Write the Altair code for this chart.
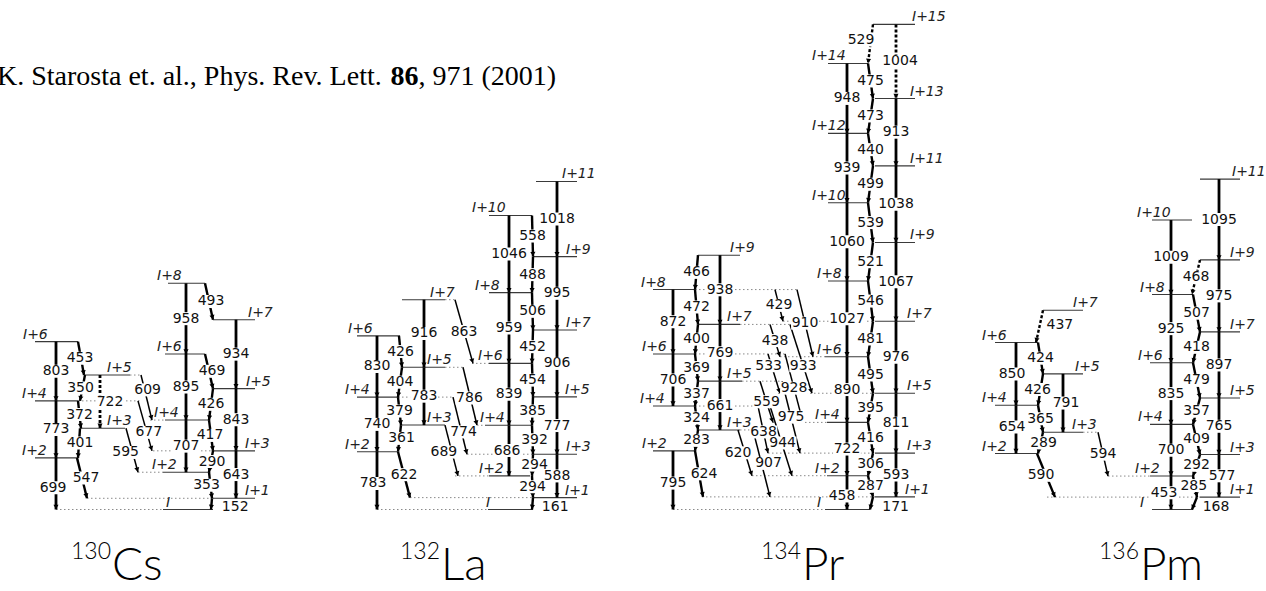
import math
import altair as alt
import pandas as pd

W, H = 1266, 591
KEV_PER_PX = 13.55          # vertical drawing scale of the level schemes
ROW_I = 509.5               # pixel row of the band-head level I
E_LO = -(H - ROW_I) * KEV_PER_PX
E_HI = ROW_I * KEV_PER_PX

# ------------------------------------------------------------------ 130Cs
# levels: (key, spin label, energy above I in keV)
CS130_LEVELS = [
    ("y0", "I", 0), ("y1", "I+1", 152), ("y2", "I+2", 505), ("y3", "I+3", 795),
    ("y4", "I+4", 1212), ("y5", "I+5", 1638), ("y6", "I+6", 2107),
    ("y7", "I+7", 2572), ("y8", "I+8", 3065),
    ("a2", "I+2", 699), ("a4", "I+4", 1472), ("a6", "I+6", 2275),
    ("b3", "I+3", 1100), ("b5", "I+5", 1822),
]
# gamma rays: (energy keV, initial level, final level)
CS130_GAMMAS = [
    (699, "a2", "y0"), (773, "a4", "a2"), (803, "a6", "a4"), (722, "b5", "b3"),
    (453, "a6", "b5"), (350, "b5", "a4"), (372, "a4", "b3"), (401, "b3", "a2"),
    (547, "a2", "y1"), (609, "b5", "y4"), (677, "a4", "y3"), (595, "b3", "y2"),
    (958, "y8", "y6"), (895, "y6", "y4"), (707, "y4", "y2"),
    (934, "y7", "y5"), (843, "y5", "y3"), (643, "y3", "y1"),
    (493, "y8", "y7"), (469, "y6", "y5"), (426, "y5", "y4"), (417, "y4", "y3"),
    (290, "y3", "y2"), (353, "y2", "y1"), (152, "y1", "y0"),
]

# ------------------------------------------------------------------ 132La
LA132_LEVELS = [
    ("y0", "I", 0), ("y1", "I+1", 161), ("y2", "I+2", 455), ("y3", "I+3", 749),
    ("y4", "I+4", 1141), ("y5", "I+5", 1526), ("y6", "I+6", 1980), ("y7", "I+7", 2432),
    ("y8", "I+8", 2938), ("y9", "I+9", 3427), ("y10", "I+10", 3984), ("y11", "I+11", 4445),
    ("a2", "I+2", 783), ("a4", "I+4", 1523), ("a6", "I+6", 2353),
    ("b3", "I+3", 1144), ("b5", "I+5", 1927), ("b7", "I+7", 2843),
]
LA132_GAMMAS = [
    (783, "a2", "y0"), (740, "a4", "a2"), (830, "a6", "a4"), (783, "b5", "b3"), (916, "b7", "b5"),
    (426, "a6", "b5"), (404, "b5", "a4"), (379, "a4", "b3"), (361, "b3", "a2"), (622, "a2", "y1"),
    (689, "b3", "y2"), (774, "a4", "y3"), (786, "b5", "y4"), (863, "b7", "y6"),
    (1046, "y10", "y8"), (959, "y8", "y6"), (839, "y6", "y4"), (686, "y4", "y2"),
    (1018, "y11", "y9"), (995, "y9", "y7"), (906, "y7", "y5"), (777, "y5", "y3"), (588, "y3", "y1"),
    (558, "y10", "y9"), (488, "y9", "y8"), (506, "y8", "y7"), (452, "y7", "y6"), (454, "y6", "y5"),
    (385, "y5", "y4"), (392, "y4", "y3"), (294, "y3", "y2"), (294, "y2", "y1"), (161, "y1", "y0"),
]

# ------------------------------------------------------------------ 134Pr
PR134_LEVELS = [
    ("y0", "I", 0), ("y1", "I+1", 171), ("y2", "I+2", 458), ("y3", "I+3", 764),
    ("y4", "I+4", 1180), ("y5", "I+5", 1575), ("y6", "I+6", 2070), ("y7", "I+7", 2551),
    ("y8", "I+8", 3097), ("y9", "I+9", 3618), ("y10", "I+10", 4157), ("y11", "I+11", 4656),
    ("y12", "I+12", 5096), ("y13", "I+13", 5569), ("y14", "I+14", 6044), ("y15", "I+15", 6573),
    ("a2", "I+2", 795), ("a4", "I+4", 1402), ("a6", "I+6", 2108), ("a8", "I+8", 2980),
    ("b3", "I+3", 1078), ("b5", "I+5", 1739), ("b7", "I+7", 2508), ("b9", "I+9", 3446),
]
PR134_GAMMAS = [
    (795, "a2", "y0"), (706, "a6", "a4"), (872, "a8", "a6"),
    (661, "b5", "b3"), (769, "b7", "b5"), (938, "b9", "b7"),
    (466, "b9", "a8"), (472, "a8", "b7"), (400, "b7", "a6"), (369, "a6", "b5"), (337, "b5", "a4"),
    (324, "a4", "b3"), (283, "b3", "a2"), (624, "a2", "y1"),
    (429, "a8", "y7"), (910, "a8", "y6"), (438, "b7", "y6"), (933, "b7", "y5"), (533, "a6", "y5"),
    (928, "a6", "y4"), (559, "b5", "y4"), (975, "b5", "y3"), (638, "a4", "y3"), (944, "a4", "y2"),
    (620, "b3", "y2"), (907, "b3", "y1"),
    (948, "y14", "y12"), (939, "y12", "y10"), (1060, "y10", "y8"), (1027, "y8", "y6"),
    (890, "y6", "y4"), (722, "y4", "y2"), (458, "y2", "y0"),
    (1004, "y15", "y13"), (913, "y13", "y11"), (1038, "y11", "y9"), (1067, "y9", "y7"),
    (976, "y7", "y5"), (811, "y5", "y3"), (593, "y3", "y1"),
    (529, "y15", "y14"), (475, "y14", "y13"), (473, "y13", "y12"), (440, "y12", "y11"),
    (499, "y11", "y10"), (539, "y10", "y9"), (521, "y9", "y8"), (546, "y8", "y7"),
    (481, "y7", "y6"), (495, "y6", "y5"), (395, "y5", "y4"), (416, "y4", "y3"),
    (306, "y3", "y2"), (287, "y2", "y1"), (171, "y1", "y0"),
]

# ------------------------------------------------------------------ 136Pm
PM136_LEVELS = [
    ("y0", "I", 0), ("y1", "I+1", 168), ("y2", "I+2", 453), ("y3", "I+3", 745),
    ("y4", "I+4", 1153), ("y5", "I+5", 1510), ("y6", "I+6", 1988), ("y7", "I+7", 2407),
    ("y8", "I+8", 2913), ("y9", "I+9", 3382), ("y10", "I+10", 3922), ("y11", "I+11", 4477),
    ("a2", "I+2", 758), ("a4", "I+4", 1412), ("a6", "I+6", 2262),
    ("b3", "I+3", 1047), ("b5", "I+5", 1838), ("b7", "I+7", 2699),
]
PM136_GAMMAS = [
    (654, "a4", "a2"), (850, "a6", "a4"), (791, "b5", "b3"),
    (437, "b7", "a6"), (424, "a6", "b5"), (426, "b5", "a4"), (365, "a4", "b3"), (289, "b3", "a2"),
    (590, "a2", "y1"), (594, "b3", "y2"),
    (1009, "y10", "y8"), (925, "y8", "y6"), (835, "y6", "y4"), (700, "y4", "y2"), (453, "y2", "y0"),
    (1095, "y11", "y9"), (975, "y9", "y7"), (897, "y7", "y5"), (765, "y5", "y3"), (577, "y3", "y1"),
    (468, "y9", "y8"), (507, "y8", "y7"), (418, "y7", "y6"), (479, "y6", "y5"), (357, "y5", "y4"),
    (409, "y4", "y3"), (292, "y3", "y2"), (285, "y2", "y1"), (168, "y1", "y0"),
]

NUCLIDE_MASS = ["130", "132", "134", "136"]
NUCLIDE_SYMBOL = ["Cs", "La", "Pr", "Pm"]
REFERENCE_TEXT = ["K. Starosta et. al., Phys. Rev. Lett. ", "86", ", 971 (2001)"]

# ================================================================== layout
# level drawing: (solid from, solid to, spin-label left edge[, dotted from, dotted to])
CS130_LEVEL_DRAW = {
    "y0": (163, 213, 166, 56, 163), "y1": (213, 255, 245, 87, 213),
    "y2": (163, 210, 152, 138, 163), "y3": (213, 255, 245, 153, 213),
    "y4": (165, 210, 154, 150, 165), "y5": (213, 255, 246),
    "y6": (165, 205, 157), "y7": (213, 255, 248), "y8": (168, 205, 157),
    "a2": (35, 78, 22), "a4": (35, 78, 22, 78, 140), "a6": (35, 78, 23),
    "b3": (80, 125, 107), "b5": (85, 130, 107, 130, 141),
}
LA132_LEVEL_DRAW = {
    "y0": (488, 533, 486, 377, 488), "y1": (533, 577, 565, 410, 533),
    "y2": (489, 530, 479, 455, 489), "y3": (533, 577, 566, 467, 533),
    "y4": (485, 532, 480, 477, 485), "y5": (533, 577, 565),
    "y6": (489, 532, 478, 472, 489), "y7": (533, 577, 566),
    "y8": (489, 532, 475), "y9": (533, 577, 566),
    "y10": (489, 532, 472), "y11": (536, 577, 562),
    "a2": (357, 398, 345), "a4": (357, 398, 345, 398, 453), "a6": (357, 400, 348),
    "b3": (402, 445, 427), "b5": (402, 445, 427, 445, 463), "b7": (402, 445, 430, 445, 456),
}
PR134_LEVEL_DRAW = {
    "y0": (825, 870, 817, 673, 825), "y1": (875, 915, 905, 702, 875),
    "y2": (827, 868, 815, 752, 827), "y3": (875, 915, 907, 768, 875),
    "y4": (827, 868, 815, 773, 827), "y5": (875, 915, 907, 778, 875),
    "y6": (825, 868, 817, 780, 825), "y7": (875, 915, 907, 783, 875),
    "y8": (828, 868, 817), "y9": (875, 915, 910),
    "y10": (828, 868, 812), "y11": (875, 915, 910),
    "y12": (828, 868, 812), "y13": (875, 915, 910),
    "y14": (828, 868, 812), "y15": (873, 915, 912),
    "a2": (653, 695, 642), "a4": (653, 695, 640, 695, 770),
    "a6": (653, 695, 642, 695, 785), "a8": (653, 695, 641, 695, 797),
    "b3": (698, 740, 727, 740, 753), "b5": (698, 742, 727, 742, 782),
    "b7": (698, 740, 727, 740, 790), "b9": (698, 740, 730),
}
PM136_LEVEL_DRAW = {
    "y0": (1152, 1193, 1140), "y1": (1200, 1240, 1230, 1047, 1200),
    "y2": (1150, 1193, 1135, 1108, 1150), "y3": (1200, 1240, 1230),
    "y4": (1150, 1193, 1138), "y5": (1200, 1240, 1230),
    "y6": (1150, 1193, 1138), "y7": (1200, 1240, 1230),
    "y8": (1152, 1193, 1140), "y9": (1200, 1240, 1230),
    "y10": (1152, 1192, 1137), "y11": (1200, 1240, 1232),
    "a2": (995, 1038, 982), "a4": (995, 1038, 982), "a6": (995, 1038, 982),
    "b3": (1042, 1083, 1072, 1083, 1098), "b5": (1042, 1083, 1075), "b7": (1043, 1083, 1073),
}

# gamma drawing, parallel to the gamma lists:
# (x at top, x at bottom, line kind, label position along line, label x shift)
E2, M1, XB, E2D, M1D = "E2", "M1", "X", "E2d", "M1d"
CS130_GAMMA_DRAW = [
    (56, 56, E2, .58, -3), (56, 56, E2, .5, 0), (56, 56, E2, .5, 0), (100, 100, E2D, .5, 10),
    (78, 84, M1, .5, -1), (85, 80, M1, .5, -2), (78, 81, M1, .5, 0), (80, 78, M1, .5, 1),
    (77, 87, M1, .5, 4), (141, 152, XB, .33, 3), (138, 152, XB, .63, 2), (126, 138, XB, .55, -7),
    (186, 186, E2, .5, 0), (186, 186, E2, .5, 0), (186, 186, E2, .5, 0),
    (236, 236, E2, .5, 0), (236, 236, E2, .5, 0), (236, 236, E2, .5, 0),
    (205, 213, M1, .5, 2), (205, 213, M1, .5, 3), (213, 209, M1, .5, 0), (209, 213, M1, .5, -1),
    (213, 209, M1, .5, 1), (209, 212, M1, .5, -4), (212, 211, M1, .8, 24),
]
LA132_GAMMA_DRAW = [
    (377, 377, E2, .55, -4), (377, 377, E2, .5, 0), (377, 377, E2, .5, 0),
    (424, 424, E2, .5, 0), (424, 424, E2, .5, 0),
    (399, 402, M1, .5, 0), (402, 398, M1, .5, 0), (398, 401, M1, .5, 0), (401, 398, M1, .5, 2),
    (398, 410, M1, .5, 0),
    (445, 458, XB, .53, -8), (453, 467, XB, .61, 2), (463, 477, XB, .53, -1), (455, 473, XB, .5, 0),
    (509, 509, E2, .5, 0), (509, 509, E2, .5, 0), (509, 509, E2, .5, 0), (509, 509, E2, .5, -2),
    (557, 557, E2, .5, 0), (557, 557, E2, .5, 0), (557, 557, E2, .5, 0), (557, 557, E2, .5, 0),
    (557, 557, E2, .5, 0),
    (532, 533, M1, .5, 0), (533, 532, M1, .5, 0), (532, 533, M1, .5, 0), (533, 532, M1, .5, 0),
    (532, 533, M1, .5, 0), (533, 532, M1, .5, 0), (532, 533, M1, .5, 2), (533, 532, M1, .5, 2),
    (532, 533, M1, .5, 0), (533, 532, M1, .8, 23),
]
PR134_GAMMA_DRAW = [
    (673, 673, E2, .55, 0), (673, 673, E2, .5, 0), (673, 673, E2, .5, 0),
    (720, 720, E2, .5, 0), (720, 720, E2, .5, 0), (720, 720, E2, .5, 0),
    (698, 695, M1, .5, 0), (695, 698, M1, .5, 0), (698, 695, M1, .5, 0), (695, 698, M1, .5, 0),
    (698, 695, M1, .5, 0), (695, 698, M1, .5, 0), (698, 695, M1, .5, 0), (695, 703, M1, .5, 5),
    (775, 783, XB, .5, 0), (797, 813, XB, .5, 0), (770, 780, XB, .5, 0), (790, 812, XB, .6, 0),
    (768, 780, XB, .3, -3), (785, 803, XB, .5, 0), (760, 773, XB, .5, 0), (782, 800, XB, .5, 0),
    (758, 768, XB, .55, 0), (770, 792, XB, .53, 1), (738, 752, XB, .5, -7), (753, 770, XB, .5, 7),
    (847, 847, E2, .5, 0), (847, 847, E2, .5, 0), (847, 847, E2, .5, 0), (847, 847, E2, .5, 0),
    (847, 847, E2, .5, 0), (847, 847, E2, .5, 0), (847, 847, E2, .6, -5),
    (896, 896, E2D, .5, 4), (896, 896, E2, .5, 0), (896, 896, E2, .5, 0), (896, 896, E2, .5, 0),
    (896, 896, E2, .5, 0), (896, 896, E2, .5, 0), (896, 896, E2, .5, 0),
    (873, 868, M1D, .4, -10), (868, 873, M1, .5, 0), (873, 868, M1, .5, 0), (868, 873, M1, .5, 0),
    (873, 868, M1, .5, 0), (868, 873, M1, .5, 0), (873, 868, M1, .5, 0), (868, 873, M1, .5, 0),
    (873, 868, M1, .5, 0), (868, 873, M1, .5, 0), (873, 868, M1, .5, 0), (868, 873, M1, .5, 0),
    (873, 868, M1, .5, 0), (868, 873, M1, .5, 0), (873, 870, M1, .8, 25),
]
PM136_GAMMA_DRAW = [
    (1016, 1016, E2, .45, -4), (1016, 1016, E2, .5, -4), (1063, 1063, E2, .5, 3),
    (1043, 1036, M1D, .45, 20), (1038, 1043, M1, .5, 0), (1043, 1038, M1, .5, -3),
    (1038, 1043, M1, .5, 0), (1043, 1038, M1, .5, 3),
    (1037, 1055, M1, .5, -5), (1098, 1108, XB, .5, 0),
    (1171, 1171, E2, .5, 0), (1171, 1171, E2, .5, 0), (1171, 1171, E2, .5, 0),
    (1171, 1171, E2, .5, 0), (1171, 1171, E2, .5, -7),
    (1219, 1219, E2, .5, 0), (1219, 1219, E2, .5, 0), (1219, 1219, E2, .5, 0),
    (1219, 1219, E2, .5, 0), (1219, 1219, E2, .5, 3),
    (1200, 1192, M1D, .5, 0), (1193, 1200, M1, .5, 0), (1200, 1193, M1, .5, 0),
    (1193, 1200, M1, .5, 0), (1200, 1193, M1, .5, 0), (1193, 1200, M1, .5, 0),
    (1200, 1193, M1, .5, 0), (1193, 1197, M1, .45, -1), (1197, 1192, M1, .8, 23),
]

NUCLIDE_SYMBOL_X = [112, 441, 802, 1140]
LINE_WIDTH = {E2: 2.8, M1: 2.4, XB: 1.5, E2D: 2.8, M1D: 2.4}

SCHEMES = [
    (CS130_LEVELS, CS130_LEVEL_DRAW, CS130_GAMMAS, CS130_GAMMA_DRAW),
    (LA132_LEVELS, LA132_LEVEL_DRAW, LA132_GAMMAS, LA132_GAMMA_DRAW),
    (PR134_LEVELS, PR134_LEVEL_DRAW, PR134_GAMMAS, PR134_GAMMA_DRAW),
    (PM136_LEVELS, PM136_LEVEL_DRAW, PM136_GAMMAS, PM136_GAMMA_DRAW),
]


def row_to_kev(row):
    return (ROW_I - row) * KEV_PER_PX


levels_rows, dotted_rows, spin_rows = [], [], []
gamma_rows, arrow_rows, label_rows = [], [], []
for levels, level_draw, gammas, gamma_draw in SCHEMES:
    energy = {key: e for key, _, e in levels}
    for key, spin, e in levels:
        spec = level_draw[key]
        levels_rows.append(dict(x=spec[0], x2=spec[1], e=e))
        spin_rows.append(dict(x=spec[2], e=e, spin=spin))
        if len(spec) == 5:
            dotted_rows.append(dict(x=spec[3], x2=spec[4], e=e))
    assert len(gammas) == len(gamma_draw)
    for (eg, a, b), (xt, xb, kind, t, dx) in zip(gammas, gamma_draw):
        et, eb = energy[a], energy[b]
        gamma_rows.append(dict(x=xt, x2=xb, e=et, e2=eb, kind=kind, w=LINE_WIDTH[kind]))
        vx, vy = xb - xt, (et - eb) / KEV_PER_PX
        n = math.hypot(vx, vy)
        ux, uy = vx / n, vy / n
        arrow_rows.append(dict(
            x=xb - ux * 2.5, e=eb + uy * 2.5 * KEV_PER_PX,
            ang=math.degrees(math.atan2(-ux, uy)) % 360,
        ))
        text = str(eg)
        cx = xt + vx * t + dx
        ce = et + (eb - et) * t
        half_w = (8.6 * len(text) + 2) / 2
        half_h = 6.5 * KEV_PER_PX
        label_rows.append(dict(x=cx, e=ce, lab=text, bx=cx - half_w, bx2=cx + half_w,
                               be=ce - half_h, be2=ce + half_h))

levels_df = pd.DataFrame(levels_rows)
dotted_df = pd.DataFrame(dotted_rows)
spin_df = pd.DataFrame(spin_rows)
gamma_df = pd.DataFrame(gamma_rows)
arrow_df = pd.DataFrame(arrow_rows)
label_df = pd.DataFrame(label_rows)

xs = alt.Scale(domain=[0, W], nice=False, zero=False)
ys = alt.Scale(domain=[E_LO, E_HI], nice=False, zero=False)


def X(f):
    return alt.X(f"{f}:Q", scale=xs, axis=None)


def Y(f):
    return alt.Y(f"{f}:Q", scale=ys, axis=None)


dotted = alt.Chart(dotted_df).mark_rule(color="#8a8a8a", strokeWidth=1, strokeDash=[1.5, 2.5]).encode(
    x=X("x"), x2="x2", y=Y("e"))
level_lines = alt.Chart(levels_df).mark_rule(color="#3a3a3a", strokeWidth=1.1).encode(
    x=X("x"), x2="x2", y=Y("e"))
solid_gammas = alt.Chart(gamma_df).transform_filter(
    "datum.kind == 'E2' || datum.kind == 'M1' || datum.kind == 'X'"
).mark_rule(color="black").encode(
    x=X("x"), x2="x2", y=Y("e"), y2="e2", strokeWidth=alt.StrokeWidth("w:Q", scale=None))
dashed_gammas = alt.Chart(gamma_df).transform_filter(
    "datum.kind == 'E2d' || datum.kind == 'M1d'"
).mark_rule(color="black", strokeDash=[3, 2]).encode(
    x=X("x"), x2="x2", y=Y("e"), y2="e2", strokeWidth=alt.StrokeWidth("w:Q", scale=None))
arrows = alt.Chart(arrow_df).mark_point(shape="triangle-down", filled=True, color="black",
                                        size=26, opacity=1).encode(
    x=X("x"), y=Y("e"), angle=alt.Angle("ang:Q", scale=None))
label_boxes = alt.Chart(label_df).mark_rect(color="white").encode(
    x=X("bx"), x2="bx2", y=Y("be"), y2="be2")
gamma_labels = alt.Chart(label_df).mark_text(
    font="DejaVu Sans", fontSize=14, color="#111", align="center", baseline="middle"
).encode(x=X("x"), y=Y("e"), text="lab:N")
spin_labels = alt.Chart(spin_df).mark_text(
    font="DejaVu Sans", fontSize=14, fontStyle="italic", color="#222", align="left",
    baseline="alphabetic", dy=-3
).encode(x=X("x"), y=Y("e"), text="spin:N")

# literature reference in the upper-left corner
REF_FONT = 28
ref_x0 = -3
ref_df = pd.DataFrame({
    "x": [ref_x0, ref_x0 + 14.055 * REF_FONT, ref_x0 + 15.055 * REF_FONT],
    "e": [row_to_kev(85)] * 3,
    "txt": REFERENCE_TEXT,
    "bold": [False, True, False],
})
ref_plain = alt.Chart(ref_df).transform_filter("!datum.bold").mark_text(
    font="Liberation Serif", fontSize=REF_FONT, align="left", baseline="alphabetic", color="black"
).encode(x=X("x"), y=Y("e"), text="txt:N")
ref_bold = alt.Chart(ref_df).transform_filter("datum.bold").mark_text(
    font="Liberation Serif", fontSize=REF_FONT, fontWeight="bold", align="left",
    baseline="alphabetic", color="black"
).encode(x=X("x"), y=Y("e"), text="txt:N")

# nuclide names under each scheme: superscript mass number + element symbol
nuc_df = pd.DataFrame({
    "x": NUCLIDE_SYMBOL_X,
    "sym": NUCLIDE_SYMBOL,
    "mass": NUCLIDE_MASS,
    "e_sym": [row_to_kev(580)] * 4,
    "e_mass": [row_to_kev(559)] * 4,
})
nuc_symbol = alt.Chart(nuc_df).mark_text(
    font="Lato", fontWeight=300, fontSize=46, align="left", baseline="alphabetic", color="black"
).encode(x=X("x"), y=Y("e_sym"), text="sym:N")
nuc_mass = alt.Chart(nuc_df).mark_text(
    font="Lato", fontWeight=300, fontSize=23, align="right", baseline="alphabetic", color="black",
    dx=-1
).encode(x=X("x"), y=Y("e_mass"), text="mass:N")

chart = alt.layer(
    dotted, level_lines, solid_gammas, dashed_gammas, arrows,
    label_boxes, gamma_labels, spin_labels,
    ref_plain, ref_bold, nuc_symbol, nuc_mass,
).properties(
    width=W, height=H, padding=0, autosize="none", background="white"
).configure_view(stroke=None)

chart.save("out.html", embed_options={"renderer": "svg", "actions": False})
